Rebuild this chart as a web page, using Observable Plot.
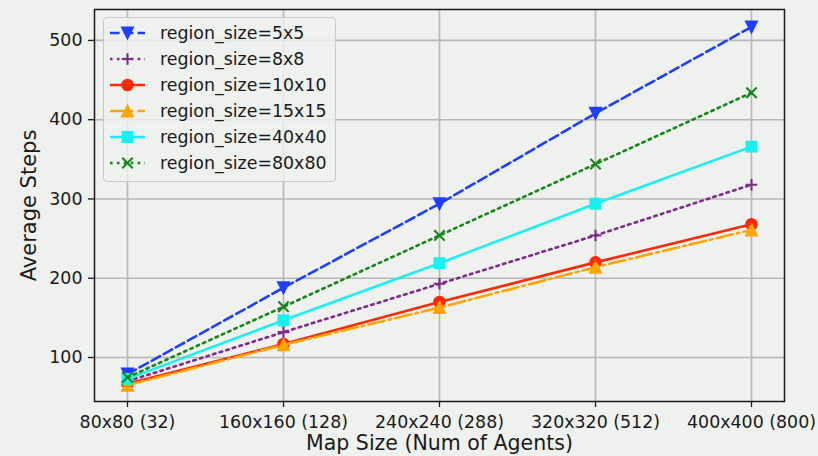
<!DOCTYPE html>
<html>
<head>
<meta charset="utf-8">
<script src="https://cdn.jsdelivr.net/npm/d3@7"></script>
<script src="https://cdn.jsdelivr.net/npm/@observablehq/plot@0.6"></script>
<style>
  body { margin: 0; background: #eef1ed; }
  #chart { position: relative; width: 818px; height: 456px; background: #eef1ed;
           font-family: "DejaVu Sans", sans-serif; color: #1a1a1a; }
  #legend { position: absolute; left: 103px; top: 17px; width: 233px; height: 165px;
            box-sizing: border-box; padding-top: 2px; border: 1px solid #c9c9c9; border-radius: 4px;
            background: rgba(238, 241, 237, 0.8); }
  #legend .row { display: flex; align-items: center; height: 26px; font-size: 17.4px; line-height: 26px; }
  #legend svg { flex: none; }
</style>
</head>
<body>
<div id="chart"></div>
<script>
// Map sizes along the x axis (agent counts in parentheses)
const mapSizes = ["80x80 (32)", "160x160 (128)", "240x240 (288)", "320x320 (512)", "400x400 (800)"];

// Series names
const regionSizes = [
  "region_size=5x5", "region_size=8x8", "region_size=10x10",
  "region_size=15x15", "region_size=40x40", "region_size=80x80"
];

// Average steps per map size, one array per region size
const steps5x5   = [79, 188, 294, 408, 517];
const steps8x8   = [70, 132, 193, 254, 318];
const steps10x10 = [67, 117, 170, 220, 268];
const steps15x15 = [65, 116, 163, 214, 261];
const steps40x40 = [73, 147, 219, 294, 366];
const steps80x80 = [75, 164, 254, 344, 434];
const seriesSteps = [steps5x5, steps8x8, steps10x10, steps15x15, steps40x40, steps80x80];

// Y axis ticks
const yTicks = [100, 200, 300, 400, 500];

// Marker shapes; s is the half-size derived from the dot radius
const half = (size) => Math.sqrt(size / Math.PI);
const triangleDown = { draw(ctx, size) { const s = half(size); ctx.moveTo(-s, -s); ctx.lineTo(s, -s); ctx.lineTo(0, s); ctx.closePath(); } };
const triangleUp   = { draw(ctx, size) { const s = half(size); ctx.moveTo(-s, s); ctx.lineTo(s, s); ctx.lineTo(0, -s); ctx.closePath(); } };
const squareMark   = { draw(ctx, size) { const s = half(size); ctx.rect(-s, -s, 2 * s, 2 * s); } };
const circleMark   = { draw(ctx, size) { const s = half(size); ctx.moveTo(s, 0); ctx.arc(0, 0, s, 0, 2 * Math.PI); } };
const plusMark     = { draw(ctx, size) { const s = half(size); ctx.moveTo(-s, 0); ctx.lineTo(s, 0); ctx.moveTo(0, -s); ctx.lineTo(0, s); } };
const timesMark    = { draw(ctx, size) { const s = half(size); ctx.moveTo(-s, -s); ctx.lineTo(s, s); ctx.moveTo(-s, s); ctx.lineTo(s, -s); } };

// Per-series styling
const styles = [
  { color: "#1f3fff", dash: "9.6,4.2",          symbol: triangleDown, r: 5.8, filled: true },
  { color: "#7f2a8c", dash: "2.6,4.3",          symbol: plusMark,     r: 5.8, filled: false },
  { color: "#ff2a0a", dash: null,               symbol: circleMark,   r: 5.6, filled: true },
  { color: "#ffa500", dash: "16.6,4.2,2.6,4.2", symbol: triangleUp,   r: 5.8, filled: true },
  { color: "#19f0f0", dash: null,               symbol: squareMark,   r: 5.2, filled: true },
  { color: "#16861a", dash: "2.6,4.3",          symbol: timesMark,    r: 5.2, filled: false }
];

const seriesMarks = regionSizes.flatMap((name, i) => {
  const rows = mapSizes.map((m, j) => ({ map: m, steps: seriesSteps[i][j], series: name }));
  const st = styles[i];
  return [
    Plot.line(rows, { x: "map", y: "steps", stroke: st.color, strokeWidth: 2.6, strokeDasharray: st.dash }),
    Plot.dot(rows, {
      x: "map", y: "steps", symbol: st.symbol, r: st.r,
      fill: st.filled ? st.color : "none", stroke: st.color,
      strokeWidth: st.filled ? 1.5 : 2.1
    })
  ];
});

const plot = Plot.plot({
  width: 818,
  height: 456,
  marginLeft: 94,
  marginRight: 34,
  marginTop: 9,
  marginBottom: 55,
  style: { background: "transparent", fontFamily: "DejaVu Sans, sans-serif", fontSize: "17.4px", color: "#1a1a1a" },
  x: { type: "point", domain: mapSizes, padding: 0.2 },
  y: { domain: [44.5, 539] },
  marks: [
    Plot.gridX(mapSizes, { stroke: "#b7b7b7", strokeOpacity: 1, strokeWidth: 1.6 }),
    Plot.gridY(yTicks, { stroke: "#b7b7b7", strokeOpacity: 1, strokeWidth: 1.6 }),
    ...seriesMarks,
    Plot.frame({ stroke: "#1a1a1a", strokeWidth: 1.5 }),
    Plot.axisX(mapSizes, { tickSize: 6, tickPadding: 8, label: null, stroke: "#1a1a1a", strokeWidth: 1.3 }),
    Plot.axisY(yTicks, { tickSize: 6, tickPadding: 6, label: null, stroke: "#1a1a1a", strokeWidth: 1.3 }),
    Plot.text(["Average Steps"], {
      text: d => d, frameAnchor: "left", rotate: -90, dx: -65,
      textAnchor: "middle", lineAnchor: "middle", fontSize: 21
    }),
    Plot.text(["Map Size (Num of Agents)"], {
      text: d => d, frameAnchor: "bottom", dy: 42,
      textAnchor: "middle", lineAnchor: "middle", fontSize: 20.5
    })
  ]
});

const chart = document.getElementById("chart");
chart.appendChild(plot);

// Legend drawn over the top-left corner of the plot area
const legend = d3.select(chart).append("div").attr("id", "legend");
regionSizes.forEach((name, i) => {
  const st = styles[i];
  const row = legend.append("div").attr("class", "row");
  const svg = row.append("svg").attr("width", 56).attr("height", 26);
  svg.append("line")
    .attr("x1", 6).attr("x2", 41).attr("y1", 13).attr("y2", 13)
    .attr("stroke", st.color).attr("stroke-width", 2.6)
    .attr("stroke-dasharray", st.dash);
  const p = d3.path();
  st.symbol.draw(p, st.r * st.r * Math.PI);
  svg.append("path")
    .attr("transform", "translate(23.5,13)")
    .attr("d", p.toString())
    .attr("fill", st.filled ? st.color : "none")
    .attr("stroke", st.color)
    .attr("stroke-width", st.filled ? 1.5 : 2.1);
  row.append("span").text(name);
});
</script>
</body>
</html>
